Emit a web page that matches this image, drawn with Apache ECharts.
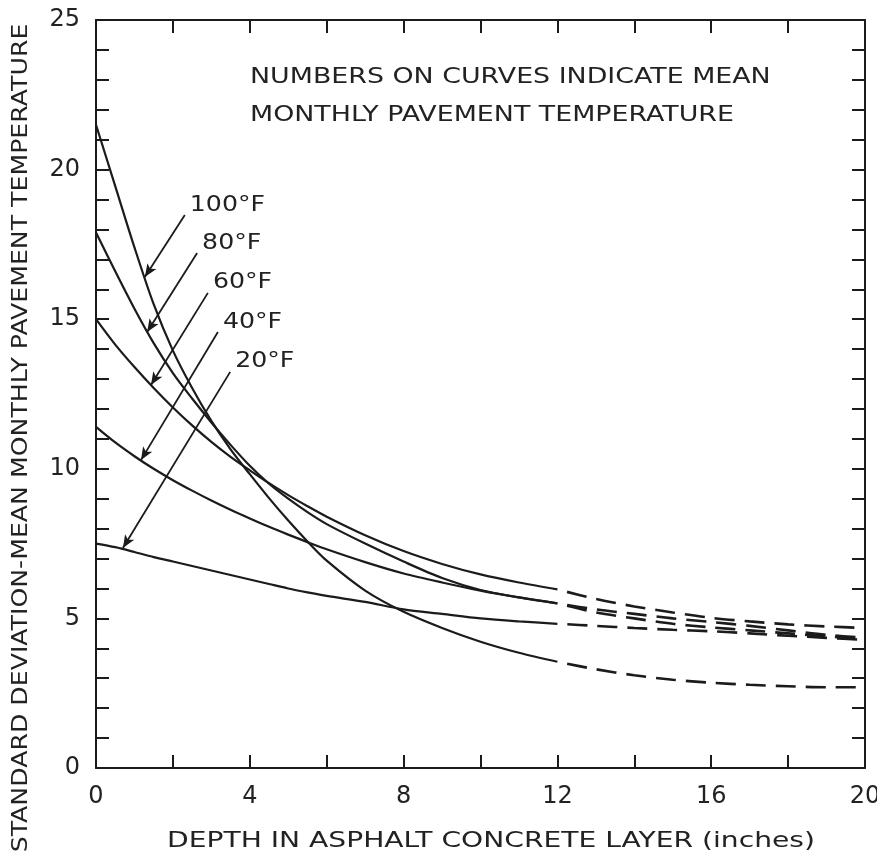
<!DOCTYPE html>
<html>
<head>
<meta charset="utf-8">
<title>Standard deviation of mean monthly pavement temperature</title>
<script src="https://cdn.jsdelivr.net/npm/echarts@6.0.0/dist/echarts.min.js"></script>
<style>
  html, body { margin: 0; padding: 0; background: #fff; }
  #chart { width: 877px; height: 864px; }
</style>
</head>
<body>
<div id="chart"></div>
<script>
const depth = [0, 0.5, 1, 1.5, 2, 2.5, 3, 3.5, 4, 4.5, 5, 5.5, 6, 7, 8, 9, 10, 11, 12, 13, 14, 15, 16, 17, 18, 19, 20];

// std deviation of mean monthly pavement temperature, one list per curve
const t100 = [21.5, 19.45, 17.4, 15.5, 13.95, 12.7, 11.6, 10.65, 9.82, 9.02, 8.27, 7.57, 6.93, 5.93, 5.22, 4.68, 4.22, 3.85, 3.55, 3.3, 3.1, 2.95, 2.85, 2.78, 2.73, 2.7, 2.7];
const t80  = [17.9, 16.6, 15.35, 14.2, 13.2, 12.35, 11.55, 10.8, 10.1, 9.5, 9.0, 8.55, 8.15, 7.5, 6.9, 6.35, 5.95, 5.7, 5.5, 5.3, 5.15, 5.0, 4.88, 4.75, 4.6, 4.45, 4.35];
const t60  = [15.0, 14.15, 13.4, 12.7, 12.05, 11.45, 10.9, 10.4, 9.95, 9.52, 9.12, 8.75, 8.4, 7.78, 7.25, 6.82, 6.47, 6.2, 5.97, 5.65, 5.4, 5.2, 5.02, 4.9, 4.8, 4.73, 4.68];
const t40  = [11.4, 10.88, 10.42, 10.0, 9.62, 9.27, 8.94, 8.63, 8.34, 8.06, 7.8, 7.55, 7.31, 6.88, 6.5, 6.2, 5.93, 5.7, 5.5, 5.2, 5.0, 4.82, 4.7, 4.6, 4.5, 4.4, 4.32];
const t20  = [7.5, 7.38, 7.22, 7.05, 6.9, 6.75, 6.6, 6.45, 6.3, 6.15, 6.0, 5.87, 5.75, 5.55, 5.3, 5.15, 5.0, 4.9, 4.82, 4.75, 4.68, 4.62, 4.57, 4.5, 4.42, 4.35, 4.28];

const curveNames = ['100°F', '80°F', '60°F', '40°F', '20°F'];
const curveValues = [t100, t80, t60, t40, t20];

// curves are drawn solid up to this depth and dashed beyond it
const solidEnd = 12;

// label arrows: from the label [depth, value] to the curve [depth, value]
const arrowFrom = [[2.31, 18.48], [2.63, 17.21], [2.91, 15.88], [3.17, 14.57], [3.49, 13.24]];
const arrowTo   = [[1.27, 16.41], [1.33, 14.57], [1.43, 12.80], [1.17, 10.29], [0.70, 7.35]];

const xTicks = [0, 4, 8, 12, 16, 20];
const yTicks = [0, 5, 10, 15, 20, 25];

const ink = '#1b1b1b';

let chart = echarts.init(document.getElementById('chart'));

function pairs(vals, keep) {
  let out = [];
  depth.forEach(function (d, i) {
    if (keep(d)) out.push([d, vals[i]]);
  });
  return out;
}

let series = [];
curveValues.forEach(function (vals, k) {
  series.push({
    name: curveNames[k],
    type: 'line',
    smooth: 0.3,
    symbol: 'none',
    lineStyle: { color: ink, width: 2.2 },
    data: pairs(vals, function (d) { return d <= solidEnd; }),
    markLine: {
      silent: true,
      symbol: ['none', 'arrow'],
      symbolSize: [8, 13],
      label: { show: false },
      lineStyle: { color: ink, width: 1.8, type: 'solid' },
      data: [[{ coord: arrowFrom[k] }, { coord: arrowTo[k] }]]
    }
  });
  // extrapolated part, starts with a gap like the original drawing
  series.push({
    name: curveNames[k] + ' (extrapolated)',
    type: 'line',
    smooth: 0.3,
    symbol: 'none',
    lineStyle: { color: ink, width: 2.6, type: [20, 10], dashOffset: 20 },
    data: pairs(vals, function (d) { return d >= solidEnd; })
  });
});

const tickStyle = { show: true, inside: true, length: 13, lineStyle: { color: ink, width: 2 } };
const lineStyle = { show: true, onZero: false, lineStyle: { color: ink, width: 2 } };
const labelStyle = { color: '#222', fontFamily: 'DejaVu Sans', fontSize: 24 };

chart.setOption({
  animation: false,
  backgroundColor: '#fff',
  grid: { left: 96, right: 12, top: 20, bottom: 96, containLabel: false, outerBoundsMode: 'none' },
  xAxis: [
    {
      type: 'value', min: 0, max: 20, interval: 2, position: 'bottom',
      axisLine: lineStyle, axisTick: tickStyle, splitLine: { show: false },
      axisLabel: Object.assign({ margin: 17, formatter: function (v) { return xTicks.indexOf(v) >= 0 ? String(v) : ''; } }, labelStyle)
    },
    {
      type: 'value', min: 0, max: 20, interval: 2, position: 'top',
      axisLine: lineStyle, axisTick: tickStyle, splitLine: { show: false }, axisLabel: { show: false }
    }
  ],
  yAxis: [
    {
      type: 'value', min: 0, max: 25, interval: 1, position: 'left',
      axisLine: lineStyle, axisTick: tickStyle, splitLine: { show: false },
      axisLabel: Object.assign({ margin: 16, formatter: function (v) { return yTicks.indexOf(v) >= 0 ? String(v) : ''; } }, labelStyle)
    },
    {
      type: 'value', min: 0, max: 25, interval: 1, position: 'right',
      axisLine: lineStyle, axisTick: tickStyle, splitLine: { show: false }, axisLabel: { show: false }
    }
  ],
  series: series
});

// texts: axis titles, the note and the curve labels
function txt(text, x, y, size, scaleX, extra) {
  return Object.assign({
    type: 'text', x: x, y: y, scaleX: scaleX,
    style: { text: text, fill: '#222', font: size + 'px "DejaVu Sans"', align: 'left', verticalAlign: 'middle' }
  }, extra || {});
}

let graphics = [
  txt('DEPTH IN ASPHALT CONCRETE LAYER (inches)', 491, 842, 21, 1.34),
  txt('STANDARD DEVIATION-MEAN MONTHLY PAVEMENT TEMPERATURE', 22, 438, 21, 1.2, { rotation: Math.PI / 2 }),
  txt('NUMBERS ON CURVES INDICATE MEAN', 250, 77, 22, 1.22),
  txt('MONTHLY PAVEMENT TEMPERATURE', 250, 115, 22, 1.22)
];
graphics[0].style.align = 'center';
graphics[1].style.align = 'center';

arrowFrom.forEach(function (p, k) {
  let px = chart.convertToPixel({ gridIndex: 0 }, p);
  graphics.push(txt(curveNames[k], px[0] + 5, px[1] - 10, 21, 1.2));
});
chart.setOption({ graphic: graphics });
</script>
</body>
</html>
